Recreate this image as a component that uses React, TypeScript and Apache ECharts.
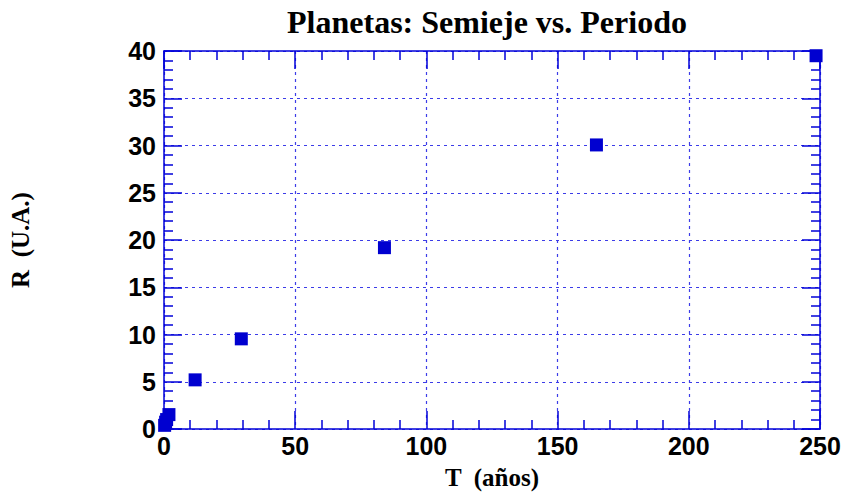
import React, { useEffect, useRef } from "react";
import * as echarts from "echarts";

const planets = ["Mercurio", "Venus", "Tierra", "Marte", "Júpiter", "Saturno", "Urano", "Neptuno", "Plutón"];
const periodT = [0.241, 0.615, 1.0, 1.881, 11.86, 29.46, 84.01, 164.8, 248.5];
const semiejeR = [0.387, 0.723, 1.0, 1.524, 5.2, 9.54, 19.19, 30.06, 39.5];

const titleText = "Planetas: Semieje vs. Periodo";
const xName = "T  (años)";
const yName = "R  (U.A.)";

const AXIS = "#0000d8";
const GRID = "#3c3ce8";
const MARK = "#0000d0";

export default function App() {
  const ref = useRef<HTMLDivElement>(null);
  useEffect(() => {
    document.body.style.margin = "0";
    const chart = echarts.init(ref.current!, null, { renderer: "svg" });
    const labelStyle = {
      fontFamily: "Liberation Sans, Arial, sans-serif",
      fontWeight: "bold" as const,
      fontSize: 25,
      color: "#000",
    };
    const nameStyle = {
      fontFamily: "Liberation Serif, Times New Roman, serif",
      fontWeight: "bold" as const,
      fontSize: 25,
      color: "#000",
    };
    const common = (show: boolean) => ({
      axisLine: { show: true, onZero: false, lineStyle: { color: AXIS, width: 1.5 } },
      axisTick: { show: true, inside: true, length: 18, lineStyle: { color: AXIS, width: 1.5 } },
      minorTick: { show: true, splitNumber: 5, length: 9, lineStyle: { color: AXIS, width: 1.5 } },
      axisLabel: show ? { ...labelStyle } : { show: false },
    });
    chart.setOption({
      animation: false,
      title: {
        text: titleText,
        left: 482,
        top: 1,
        textAlign: "center",
        textStyle: {
          fontFamily: "Liberation Serif, Times New Roman, serif",
          fontWeight: "bold",
          fontSize: 32,
          color: "#000",
        },
      },
      grid: { left: 163, right: 25, top: 51, bottom: 71, containLabel: false },
      xAxis: [
        {
          type: "value",
          min: 0,
          max: 250,
          interval: 50,
          position: "bottom",
          name: xName,
          nameLocation: "middle",
          nameGap: 36,
          nameTextStyle: nameStyle,
          ...common(true),
          axisLabel: { ...labelStyle, margin: 4 },
          splitLine: { show: true, lineStyle: { color: GRID, type: [3, 4], width: 1.2 } },
        },
        {
          type: "value",
          min: 0,
          max: 250,
          interval: 50,
          position: "top",
          ...common(false),
          splitLine: { show: false },
        },
      ],
      yAxis: [
        {
          type: "value",
          min: 0,
          max: 40,
          interval: 5,
          position: "left",
          name: yName,
          nameLocation: "middle",
          nameGap: 131,
          nameRotate: 90,
          nameTextStyle: nameStyle,
          ...common(true),
          axisLabel: { ...labelStyle, margin: 8 },
          splitLine: { show: true, lineStyle: { color: GRID, type: [3, 4], width: 1.2 } },
        },
        {
          type: "value",
          min: 0,
          max: 40,
          interval: 5,
          position: "right",
          ...common(false),
          splitLine: { show: false },
        },
      ],
      series: [
        {
          type: "scatter",
          name: "Planetas",
          symbol: "rect",
          symbolSize: 13,
          itemStyle: { color: MARK, opacity: 1 },
          clip: false,
          data: periodT.map((t, i) => ({ name: planets[i], value: [t, semiejeR[i]] })),
        },
      ],
    });
    return () => chart.dispose();
  }, []);
  return <div ref={ref} style={{ width: 845, height: 500 }} />;
}
